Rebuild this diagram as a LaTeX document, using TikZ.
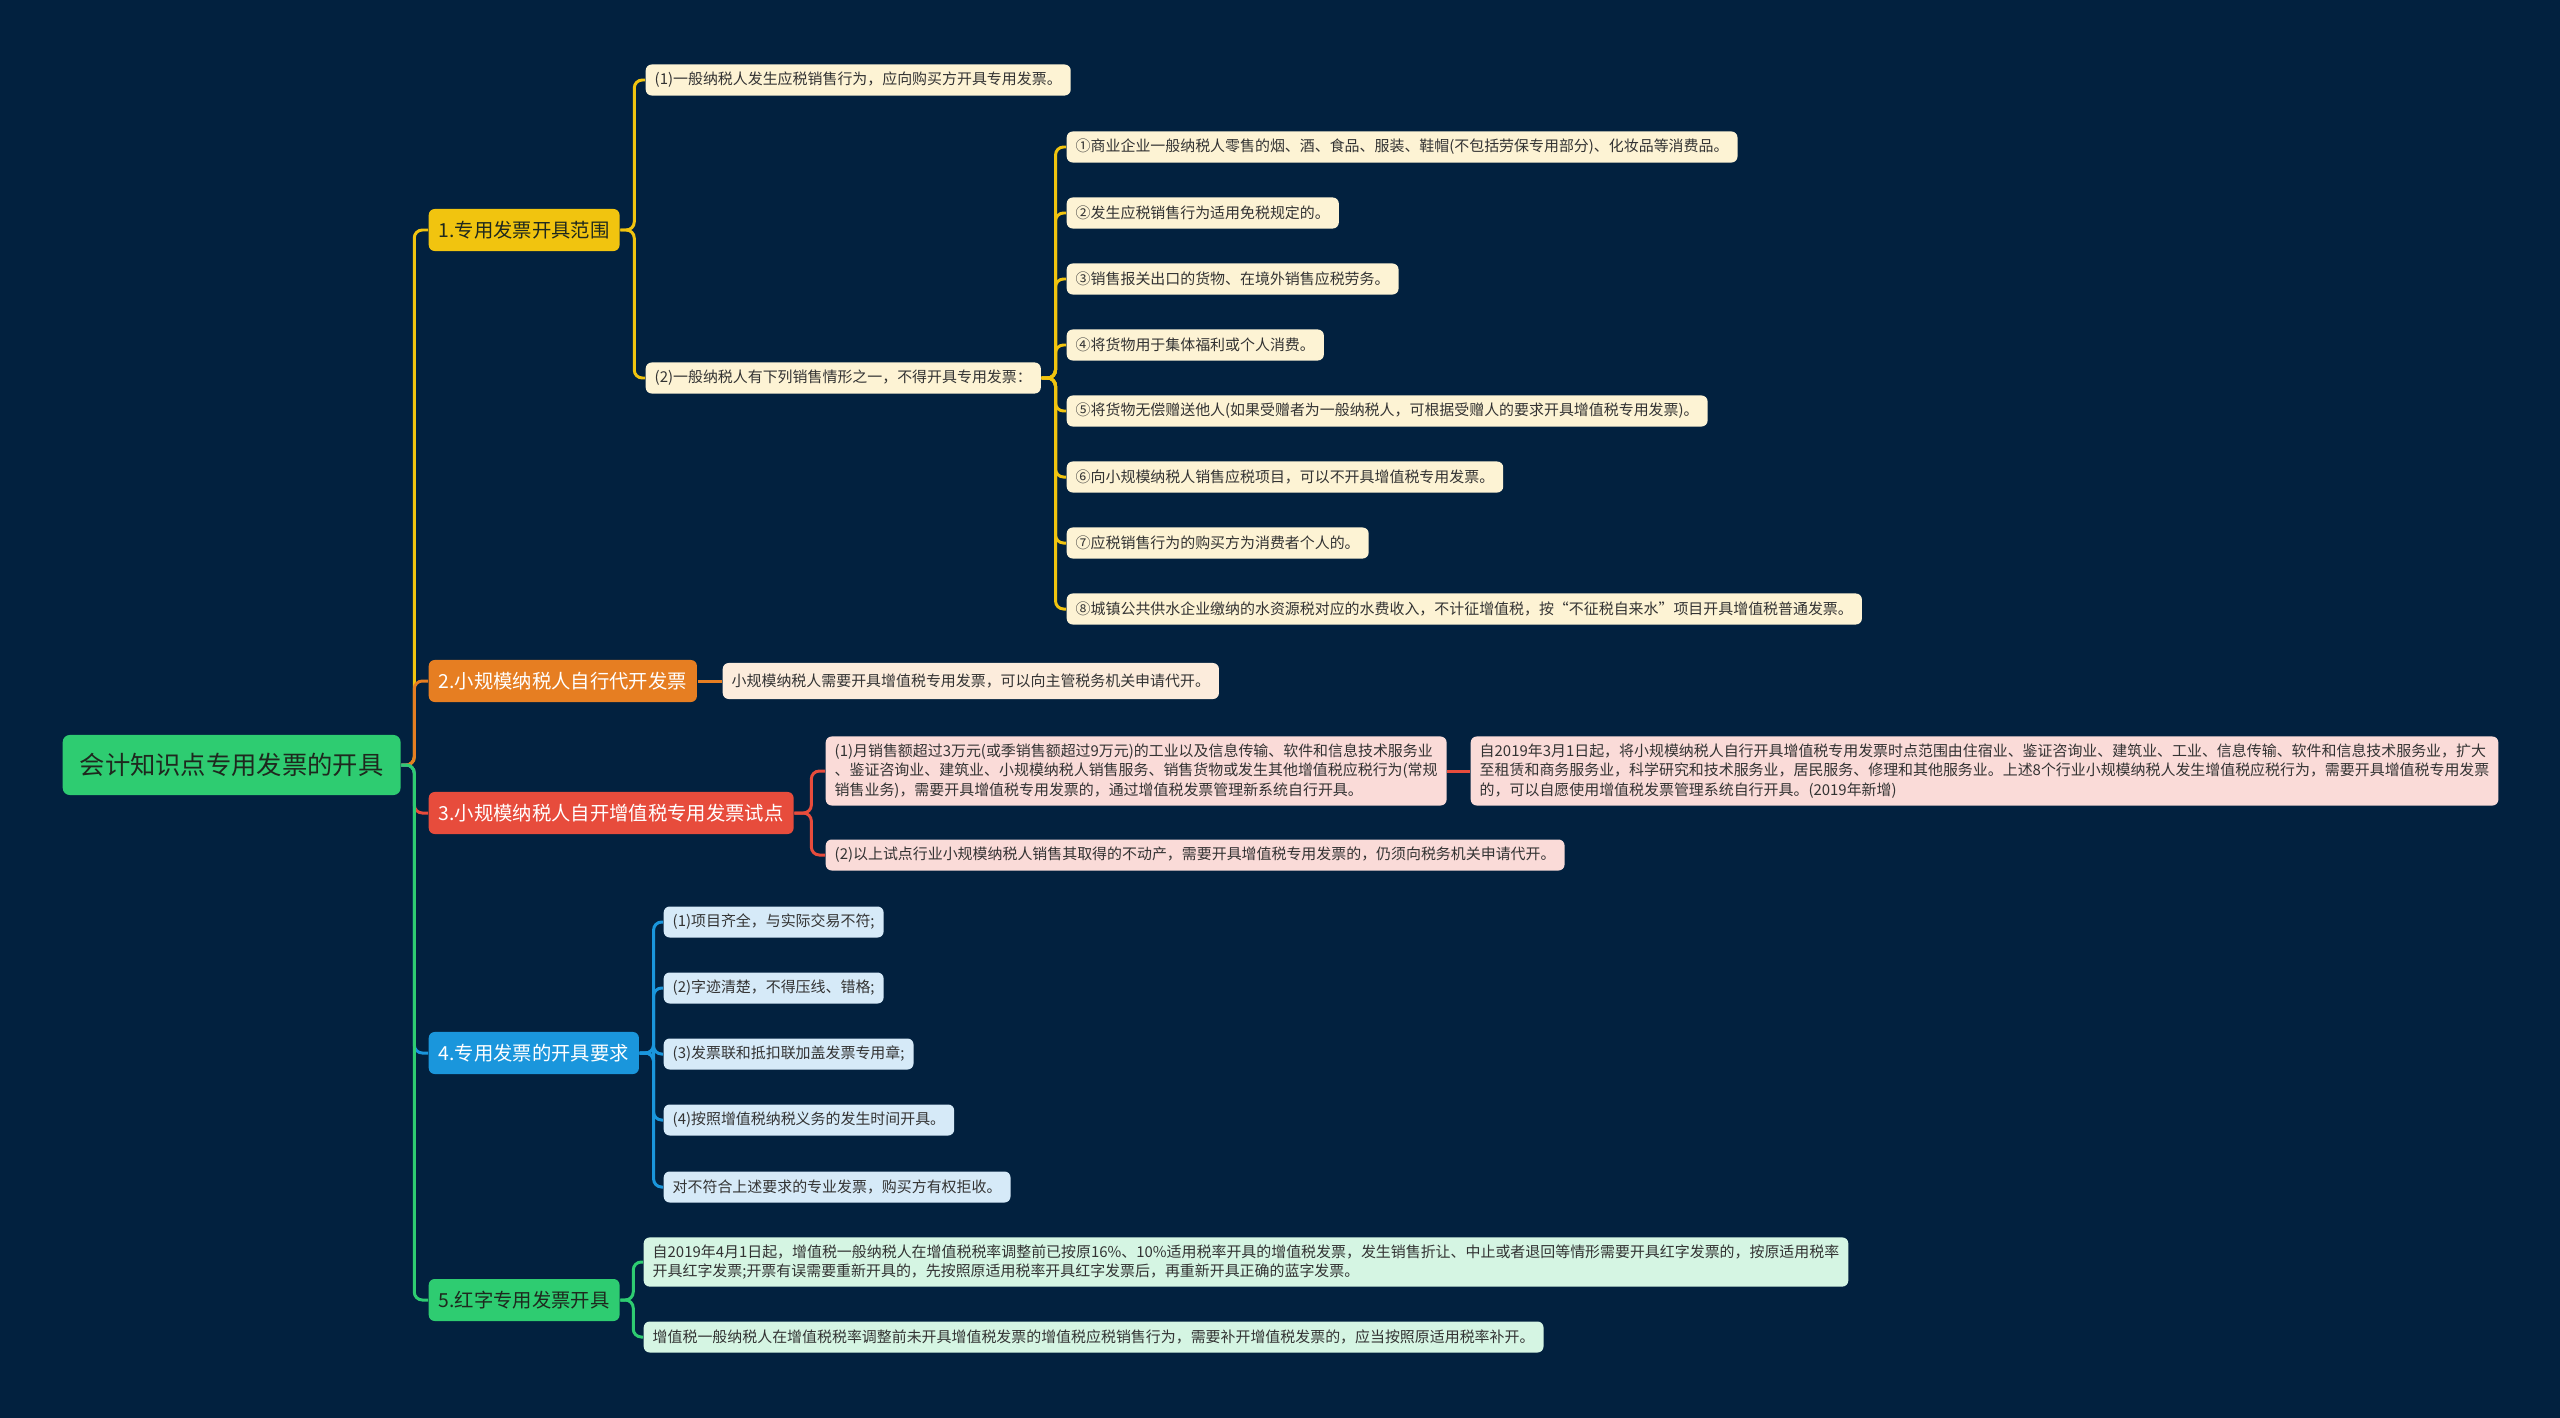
\documentclass[tikz,border=0pt]{standalone}
\usepackage{fontspec}
\newfontfamily\cjk{Noto Sans CJK SC}
\definecolor{bg}{RGB}{2,33,63}
\definecolor{ylw}{RGB}{241,196,15}
\definecolor{org}{RGB}{230,126,34}
\definecolor{rd}{RGB}{231,76,60}
\definecolor{blu}{RGB}{26,150,220}
\definecolor{grn}{RGB}{46,204,113}
\definecolor{ylwleaf}{RGB}{253,243,212}
\definecolor{orgleaf}{RGB}{252,236,220}
\definecolor{rdleaf}{RGB}{250,219,216}
\definecolor{bluleaf}{RGB}{214,234,248}
\definecolor{grnleaf}{RGB}{213,245,227}
\definecolor{ink}{RGB}{51,51,51}
\definecolor{darkink}{RGB}{30,40,30}

\begin{document}
\begin{tikzpicture}[x=0.01cm,y=-0.01cm,
  root/.style={fill=grn,text=darkink,rounded corners=0.07cm,anchor=west,
    minimum height=0.6cm,inner xsep=0.17cm,font=\cjk\fontsize{7.2}{8}\selectfont},
  topic/.style={rounded corners=0.06cm,anchor=west,minimum height=0.42cm,
    inner xsep=0.1cm,font=\cjk\fontsize{5.5}{7}\selectfont},
  leaf/.style={rounded corners=0.06cm,anchor=west,minimum height=0.31cm,
    inner xsep=0.09cm,inner ysep=0.07cm,text=ink,align=left,
    font=\cjk\fontsize{4.25}{5.6}\selectfont},
  link/.style={line width=0.85pt,rounded corners=0.08cm}]
  \fill[bg] (0,0) rectangle (2560,1418);
  \useasboundingbox (0,0) rectangle (2560,1418);

  % main topic and branches
  \node[root] (R) at (62,765) {会计知识点专用发票的开具};
  \node[topic,fill=ylw,text=darkink] (S1) at (428,230) {1.专用发票开具范围};
  \node[topic,fill=org,text=white] (S2) at (428,681) {2.小规模纳税人自行代开发票};
  \node[topic,fill=rd,text=white] (S3) at (428,813) {3.小规模纳税人自开增值税专用发票试点};
  \node[topic,fill=blu,text=white] (S4) at (428,1053) {4.专用发票的开具要求};
  \node[topic,fill=grn,text=darkink] (S5) at (428,1300) {5.红字专用发票开具};

  \draw[link,ylw] (R.east) -- ++(13,0) |- (S1.west);
  \draw[link,org] (R.east) -- ++(13,0) |- (S2.west);
  \draw[link,rd] (R.east) -- ++(13,0) |- (S3.west);
  \draw[link,blu] (R.east) -- ++(13,0) |- (S4.west);
  \draw[link,grn] (R.east) -- ++(13,0) |- (S5.west);

  % 1
  \node[leaf,fill=ylwleaf] (S1a) at (645,80) {(1)一般纳税人发生应税销售行为，应向购买方开具专用发票。};
  \node[leaf,fill=ylwleaf] (S1b) at (645,378) {(2)一般纳税人有下列销售情形之一，不得开具专用发票：};
  \draw[link,ylw] (S1.east) -- ++(14,0) |- (S1a.west);
  \draw[link,ylw] (S1.east) -- ++(14,0) |- (S1b.west);

  \node[leaf,fill=ylwleaf] (B1) at (1066,147) {①商业企业一般纳税人零售的烟、酒、食品、服装、鞋帽(不包括劳保专用部分)、化妆品等消费品。};
  \node[leaf,fill=ylwleaf] (B2) at (1066,213) {②发生应税销售行为适用免税规定的。};
  \node[leaf,fill=ylwleaf] (B3) at (1066,279) {③销售报关出口的货物、在境外销售应税劳务。};
  \node[leaf,fill=ylwleaf] (B4) at (1066,345) {④将货物用于集体福利或个人消费。};
  \node[leaf,fill=ylwleaf] (B5) at (1066,411) {⑤将货物无偿赠送他人(如果受赠者为一般纳税人，可根据受赠人的要求开具增值税专用发票)。};
  \node[leaf,fill=ylwleaf] (B6) at (1066,477) {⑥向小规模纳税人销售应税项目，可以不开具增值税专用发票。};
  \node[leaf,fill=ylwleaf] (B7) at (1066,543) {⑦应税销售行为的购买方为消费者个人的。};
  \node[leaf,fill=ylwleaf] (B8) at (1066,609) {⑧城镇公共供水企业缴纳的水资源税对应的水费收入，不计征增值税，按“不征税自来水”项目开具增值税普通发票。};
  \foreach \b in {B1,B2,B3,B4,B5,B6,B7,B8}
    \draw[link,ylw] (S1b.east) -- ++(14,0) |- (\b.west);

  % 2
  \node[leaf,fill=orgleaf,minimum height=0.36cm] (S2a) at (722,681) {小规模纳税人需要开具增值税专用发票，可以向主管税务机关申请代开。};
  \draw[link,org] (S2.east) -- (S2a.west);

  % 3
  \node[leaf,fill=rdleaf] (S3a) at (825,771) {(1)月销售额超过3万元(或季销售额超过9万元)的工业以及信息传输、软件和信息技术服务业\\、鉴证咨询业、建筑业、小规模纳税人销售服务、销售货物或发生其他增值税应税行为(常规\\销售业务)，需要开具增值税专用发票的，通过增值税发票管理新系统自行开具。};
  \node[leaf,fill=rdleaf] (S3b) at (1470,771) {自2019年3月1日起，将小规模纳税人自行开具增值税专用发票时点范围由住宿业、鉴证咨询业、建筑业、工业、信息传输、软件和信息技术服务业，扩大\\至租赁和商务服务业，科学研究和技术服务业，居民服务、修理和其他服务业。上述8个行业小规模纳税人发生增值税应税行为，需要开具增值税专用发票\\的，可以自愿使用增值税发票管理系统自行开具。(2019年新增)};
  \node[leaf,fill=rdleaf] (S3c) at (825,855) {(2)以上试点行业小规模纳税人销售其取得的不动产，需要开具增值税专用发票的，仍须向税务机关申请代开。};
  \draw[link,rd] (S3.east) -- ++(17,0) |- (S3a.west);
  \draw[link,rd] (S3.east) -- ++(17,0) |- (S3c.west);
  \draw[link,rd] (S3a.east) -- (S3b.west);

  % 4
  \node[leaf,fill=bluleaf] (S4a) at (663,922) {(1)项目齐全，与实际交易不符;};
  \node[leaf,fill=bluleaf] (S4b) at (663,988) {(2)字迹清楚，不得压线、错格;};
  \node[leaf,fill=bluleaf] (S4c) at (663,1054) {(3)发票联和抵扣联加盖发票专用章;};
  \node[leaf,fill=bluleaf] (S4d) at (663,1120) {(4)按照增值税纳税义务的发生时间开具。};
  \node[leaf,fill=bluleaf] (S4e) at (663,1187) {对不符合上述要求的专业发票，购买方有权拒收。};
  \foreach \b in {S4a,S4b,S4c,S4d,S4e}
    \draw[link,blu] (S4.east) -- ++(14,0) |- (\b.west);

  % 5
  \node[leaf,fill=grnleaf] (S5a) at (643,1262) {自2019年4月1日起，增值税一般纳税人在增值税税率调整前已按原16\%、10\%适用税率开具的增值税发票，发生销售折让、中止或者退回等情形需要开具红字发票的，按原适用税率\\开具红字发票;开票有误需要重新开具的，先按照原适用税率开具红字发票后，再重新开具正确的蓝字发票。};
  \node[leaf,fill=grnleaf] (S5b) at (643,1337) {增值税一般纳税人在增值税税率调整前未开具增值税发票的增值税应税销售行为，需要补开增值税发票的，应当按照原适用税率补开。};
  \draw[link,grn] (S5.east) -- ++(13,0) |- (S5a.west);
  \draw[link,grn] (S5.east) -- ++(13,0) |- (S5b.west);
\end{tikzpicture}
\end{document}
